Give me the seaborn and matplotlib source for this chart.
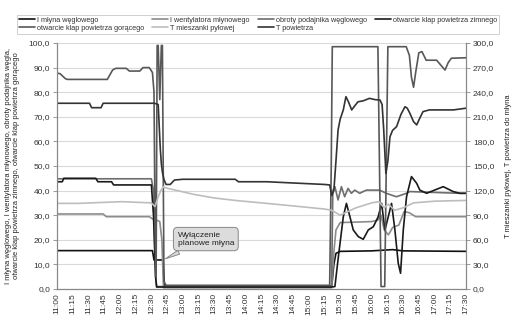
import matplotlib
matplotlib.use("Agg")
import matplotlib.pyplot as plt
import seaborn as sns
import numpy as np

# ---- data (time in minutes after 11:00) ----
tick_labels = ["11:00", "11:15", "11:30", "11:45", "12:00", "12:15", "12:30", "12:45",
               "13:00", "13:15", "13:30", "13:45", "14:00", "14:15", "14:30", "14:45",
               "15:00", "15:15", "15:30", "15:45", "16:00", "16:15", "16:30", "16:45",
               "17:00", "17:15", "17:30"]

t_mlyn = [0, 91, 92.5, 101, 102.5, 262, 264, 266, 270, 300, 320, 330, 390]
i_mlyn = [15.6, 15.6, 11.8, 11.8, 1.2, 1.2, 10, 14.5, 15.3, 15.5, 16, 15.5, 15.3]

t_went = [0, 44, 47, 88, 91, 95, 98, 100, 101.5, 262, 264, 266, 270, 300, 306, 309,
          312, 316, 320, 326, 331, 336, 342, 390]
i_went = [30.5, 30.5, 29.4, 29.4, 28.5, 28, 27.4, 20, 0.5, 0.5, 15, 24, 27, 27.4, 28, 30,
          24, 22, 25, 26, 31.5, 31, 29.4, 29.4]

t_obr = [0, 90, 92, 94, 95, 261.8, 263, 265, 268, 271.2, 274.3, 277.5, 280.7, 283.9,
         288.6, 295, 307.7, 314, 323.6, 333.2, 336.4, 384, 390]
obroty = [44.8, 44.8, 40, 5, 1, 1, 40, 41.6, 36.2, 41.6, 37.5, 40.9, 38.9, 40.2,
          38.9, 40.2, 40.2, 38.9, 37.5, 38.9, 39.6, 38.9, 38.9]

t_zimn = [0, 5, 6.5, 37, 39, 52, 54, 90, 92, 94, 95, 262, 265, 268, 273, 276, 279.3,
          282.5, 287.3, 292, 296.8, 301.6, 306.3, 309.5, 312.7, 315.9, 319, 322.2, 325.4,
          327.6, 330.2, 333.3, 338, 342.9, 346, 352.4, 368.3, 377.8, 384.2, 390]
klapy_zimn = [43.6, 43.6, 45, 45, 43.6, 43.6, 42.3, 42.3, 30, 5, 0.8, 0.8, 1, 12, 29.4,
              34.8, 29.4, 24, 21.3, 20.2, 24, 25.3, 29.4, 34.8, 24, 29.4, 34.8, 24, 10.4,
              6.4, 24, 37.5, 45.7, 43, 40.2, 38.9, 41.6, 39.6, 38.9, 38.9]

t_gor = [0, 3, 8, 10, 48, 53, 56, 66, 69, 79, 82, 88, 91, 92.5, 93.5, 94.5, 95.5, 96.5,
         98, 99.5, 100.5, 102, 104, 260, 261.5, 262.5, 306, 307.5, 309, 312.5, 314, 315.5,
         333, 336, 338, 340, 342, 345, 348, 352, 362, 366, 370, 373, 376, 390]
klapy_gor = [87.8, 87.5, 85.5, 85.2, 85.2, 89, 89.7, 89.7, 88.6, 88.6, 90, 90, 88, 80, 25,
             5, 99, 99, 77, 99, 99, 3, 1.5, 1.5, 50, 98.5, 98.5, 50, 1, 1, 50, 98.5,
             98.5, 95, 86, 82, 88, 96, 96.5, 93, 93, 91, 89, 92, 93.8, 94]

t_mies = [0, 20, 62, 90, 93.4, 96.6, 99, 101.4, 104.6, 115, 130, 150, 170, 200, 231.7,
          255, 262, 266, 270, 275, 285, 300, 307, 312, 316, 322, 330, 340, 360, 390]
temp_mies = [104.4, 104.4, 106.5, 105, 100.5, 112.5, 120, 124.8, 123, 120, 115.5, 111, 108,
             104.4, 100.5, 97.5, 96, 93, 90, 93, 99, 105, 106.5, 99, 103.5, 96, 99, 105,
             107.1, 108]

t_pow = [0, 31, 33, 42, 44, 93, 96.5, 97.5, 98.5, 99.5, 100.5, 102, 104, 108, 112, 120,
         170, 173, 200, 230, 255, 260, 262, 264, 266, 268, 270, 273, 275.5, 278, 281, 284,
         287, 292, 298, 303, 308, 310, 311.5, 313.6, 315.5, 317.5, 320, 323.8, 328, 331.8,
         334, 336.5, 340, 343, 346, 349, 355, 378, 390]
temp_pow = [226.5, 226.5, 221.1, 221.1, 226.5, 226.5, 225, 198, 171, 153, 142.5, 133.5,
            127.5, 127.5, 132.9, 133.8, 133.8, 130.8, 130.8, 129, 127.5, 126.9, 114, 120,
            156, 193.8, 207, 218.4, 234.6, 228, 218.4, 223.5, 228.3, 229.5, 232.5, 231,
            230.4, 225, 195, 141, 156, 185.7, 193.5, 198, 213, 222.3, 220.5, 214.2, 204,
            200.1, 208.5, 216.3, 218.4, 218.4, 220.5]

# ---- styling ----
sns.set_style("white")
plt.rcParams['font.family'] = ['Liberation Sans', 'DejaVu Sans']
FS = 6
LFS = 5.2
YFS = 5.4

fig = plt.figure(figsize=(5.21, 3.24), dpi=100)
ax = fig.add_axes([57/521, 1-289/324, (466-57)/521, (289-43)/324])
ax2 = ax.twinx()

left_series = [
    ("I młyna węglowego", t_mlyn, i_mlyn, "#111111"),
    ("I wentylatora młynowego", t_went, i_went, "#8c8c8c"),
    ("obroty podajnika węglowego", t_obr, obroty, "#6e6e6e"),
    ("otwarcie klap powietrza zimnego", t_zimn, klapy_zimn, "#1a1a1a"),
    ("otwarcie klap powietrza gorącego", t_gor, klapy_gor, "#585858"),
]
right_series = [
    ("T mieszanki pyłowej", t_mies, temp_mies, "#bdbdbd"),
    ("T powietrza", t_pow, temp_pow, "#333333"),
]

handles = {}
for name, tx, vy, col in left_series:
    sns.lineplot(x=tx, y=vy, ax=ax, color=col, linewidth=1.2, legend=False, sort=False)
    handles[name] = ax.lines[-1]
for name, tx, vy, col in right_series:
    sns.lineplot(x=tx, y=vy, ax=ax2, color=col, linewidth=1.2, legend=False, sort=False)
    handles[name] = ax2.lines[-1]

ax.set_xlim(0, 390)
ax.set_ylim(0, 100)
ax2.set_ylim(0, 300)
ax.set_xticks(np.arange(0, 391, 15))
ax.set_xticklabels(tick_labels, rotation=90, fontsize=FS, color="#333333")
ax.set_yticks(np.arange(0, 101, 10))
ax.set_yticklabels([f"{v:.1f}".replace(".", ",") for v in np.arange(0, 101, 10)],
                   fontsize=FS, color="#333333")
ax2.set_yticks(np.arange(0, 301, 30))
ax2.set_yticklabels([f"{v:.1f}".replace(".", ",") for v in np.arange(0, 301, 30)],
                    fontsize=FS, color="#333333")
ax.yaxis.grid(True, color="#d9d9d9", linewidth=0.8)
ax.xaxis.grid(False)
ax.set_axisbelow(True)
ax2.grid(False)
for a in (ax, ax2):
    for s in a.spines.values():
        s.set_color("#888888")
        s.set_linewidth(0.8)
    a.spines['top'].set_visible(False)
ax.tick_params(axis='both', length=3, width=0.6, color="#888888", pad=2)
ax2.tick_params(axis='y', length=3, width=0.6, color="#888888", pad=2)
ax.tick_params(axis='x', length=0, pad=3)

ax.set_ylabel("I młyna węglowego, I wentylatora młynowego, obroty podajnika węgla,\n"
              "otwarcie klap powietrza zimnego, otwarcie klap powietrza gorącego",
              fontsize=YFS, color="#222222", labelpad=6)
ax2.set_ylabel("T mieszanki pyłowej, T powietrza do młyna", fontsize=YFS,
               color="#222222", labelpad=8)

order = ["I młyna węglowego", "otwarcie klap powietrza gorącego",
         "I wentylatora młynowego", "T mieszanki pyłowej",
         "obroty podajnika węglowego", "T powietrza",
         "otwarcie klap powietrza zimnego"]
leg = fig.legend([handles[n] for n in order], order, ncol=4, loc="upper left",
                 bbox_to_anchor=(13/521, 1-11/324, 490/521, 0.0), mode="expand",
                 fontsize=LFS, frameon=True, fancybox=False, handlelength=2.2,
                 handletextpad=0.3, borderpad=0.3, labelspacing=0.15, columnspacing=1.0)
leg.get_frame().set_edgecolor("#bbbbbb")
leg.get_frame().set_linewidth(0.6)
for txt in leg.get_texts():
    txt.set_color("#333333")

ax.annotate("Wyłączenie\nplanowe młyna", xy=(101, 11.8), xytext=(115, 20.3),
            fontsize=FS, color="#222222", ha="left", va="center",
            bbox=dict(boxstyle="round,pad=0.5", fc="#dcdcdc", ec="#888888", lw=0.7),
            arrowprops=dict(arrowstyle="wedge,tail_width=0.5,shrink_factor=0.5",
                            fc="#dcdcdc", ec="#888888", lw=0.7))

fig.savefig("out.png", dpi=100)
